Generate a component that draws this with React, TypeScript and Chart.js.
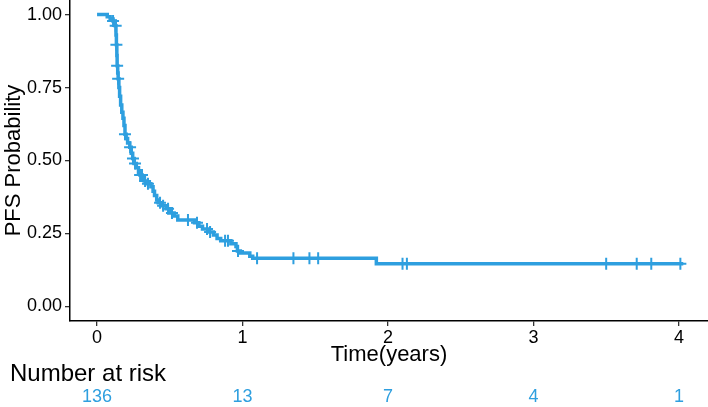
import React, { useEffect, useRef } from "react";
import { Chart, registerables } from "chart.js";

Chart.register(...registerables);

// Kaplan-Meier step points: time (years) and survival after the event
const stepTimes = [
  0, 0.07, 0.09, 0.11, 0.125, 0.13, 0.133, 0.136, 0.138, 0.142, 0.145, 0.15, 0.155,
  0.162, 0.17, 0.178, 0.185, 0.192, 0.2, 0.21, 0.225, 0.235, 0.245, 0.255, 0.27,
  0.285, 0.295, 0.31, 0.325, 0.345, 0.37, 0.385, 0.395, 0.41, 0.42, 0.445, 0.475,
  0.505, 0.53, 0.555, 0.67, 0.7, 0.725, 0.77, 0.8, 0.825, 0.85, 0.92, 0.955, 0.965,
  0.985, 1.05, 1.07, 1.92,
];
const stepSurv = [
  1.0, 0.993, 0.985, 0.978, 0.962, 0.93, 0.897, 0.86, 0.825, 0.8, 0.78, 0.75, 0.72,
  0.69, 0.665, 0.645, 0.62, 0.59, 0.575, 0.56, 0.545, 0.525, 0.507, 0.49, 0.475,
  0.46, 0.45, 0.44, 0.43, 0.42, 0.41, 0.395, 0.38, 0.365, 0.355, 0.345, 0.335,
  0.32, 0.31, 0.296, 0.287, 0.275, 0.265, 0.255, 0.245, 0.233, 0.225, 0.215, 0.205,
  0.19, 0.183, 0.172, 0.165, 0.146,
];
const endTime = 4.03;
const censorTimes = [
  0.11, 0.128, 0.133, 0.138, 0.145, 0.192, 0.227, 0.247, 0.261, 0.296, 0.309, 0.33,
  0.35, 0.433, 0.454, 0.488, 0.515, 0.625, 0.687, 0.756, 0.777, 0.88, 0.9, 0.969,
  1.1, 1.35, 1.46, 1.52, 2.1, 2.13, 3.5, 3.71, 3.81, 4.01,
];
const xTicks = [0, 1, 2, 3, 4];
const yTicks = [0, 0.25, 0.5, 0.75, 1.0];
const riskCounts = [136, 13, 7, 4, 1];

const LINE_COLOR = "#2E9FDF";
const FONT = "'Liberation Sans', Arial, Helvetica, sans-serif";

function survAt(t: number): number {
  let s = 1;
  for (let i = 0; i < stepTimes.length; i++) {
    if (stepTimes[i] <= t) s = stepSurv[i];
  }
  return s;
}

const textPlugin = {
  id: "kmText",
  afterDraw(chart: any) {
    const ctx = chart.ctx;
    const xs = chart.scales.x;
    const area = chart.chartArea;
    ctx.save();
    // x title
    ctx.fillStyle = "#000";
    ctx.font = `22px ${FONT}`;
    ctx.textAlign = "center";
    ctx.textBaseline = "middle";
    ctx.fillText("Time(years)", (area.left + area.right) / 2, 355);
    // y title
    ctx.save();
    ctx.translate(14, (area.top + area.bottom) / 2);
    ctx.rotate(-Math.PI / 2);
    ctx.fillText("PFS Probability", 0, 0);
    ctx.restore();
    // risk table
    ctx.textAlign = "left";
    ctx.textBaseline = "alphabetic";
    ctx.font = `24px ${FONT}`;
    ctx.fillText("Number at risk", 10, 381);
    ctx.font = `18px ${FONT}`;
    ctx.fillStyle = LINE_COLOR;
    ctx.textAlign = "center";
    ctx.textBaseline = "middle";
    riskCounts.forEach((n, i) => {
      ctx.fillText(String(n), xs.getPixelForValue(xTicks[i]), 397);
    });
    ctx.restore();
  },
};

export default function App() {
  const ref = useRef<HTMLCanvasElement | null>(null);

  useEffect(() => {
    if (!ref.current) return;
    const lineData = stepTimes.map((t, i) => ({ x: t, y: stepSurv[i] }));
    lineData.push({ x: endTime, y: stepSurv[stepSurv.length - 1] });
    const censorData = censorTimes.map((t) => ({ x: t, y: survAt(t) }));

    const chart = new Chart(ref.current, {
      type: "line",
      data: {
        datasets: [
          {
            data: lineData,
            borderColor: LINE_COLOR,
            borderWidth: 3.5,
            stepped: true,
            pointRadius: 0,
            fill: false,
            borderCapStyle: "butt",
            borderJoinStyle: "miter",
            clip: false,
          },
          {
            data: censorData,
            showLine: false,
            pointStyle: "cross",
            pointRadius: 6,
            pointBorderWidth: 2,
            pointBorderColor: LINE_COLOR,
            pointBackgroundColor: LINE_COLOR,
            borderColor: LINE_COLOR,
            clip: false,
          },
        ],
      },
      options: {
        animation: false,
        responsive: false,
        maintainAspectRatio: false,
        layout: { autoPadding: false, padding: { left: 0, right: 0, top: 0, bottom: 56 } },
        plugins: {
          legend: { display: false },
          tooltip: { enabled: false },
          title: { display: false },
        },
        scales: {
          x: {
            type: "linear",
            min: -0.186,
            max: 4.2,
            afterBuildTicks: (scale: any) => {
              scale.ticks = xTicks.map((v) => ({ value: v }));
            },
            afterFit: (scale: any) => {
              scale.height = 30;
              scale.paddingLeft = 0;
              scale.paddingRight = 0;
            },
            ticks: {
              color: "#000",
              font: { family: FONT, size: 18 },
              padding: 1,
              maxRotation: 0,
              callback: (v: any) => String(v),
            },
            grid: {
              drawOnChartArea: false,
              drawTicks: true,
              tickLength: 5,
              color: "#333",
              lineWidth: 1.3,
            },
            border: { display: true, color: "#000", width: 1.5 },
          },
          y: {
            type: "linear",
            min: -0.05,
            max: 1.05,
            afterBuildTicks: (scale: any) => {
              scale.ticks = yTicks.map((v) => ({ value: v }));
            },
            afterFit: (scale: any) => {
              scale.width = 70;
              scale.paddingTop = 0;
              scale.paddingBottom = 0;
            },
            ticks: {
              color: "#000",
              font: { family: FONT, size: 18 },
              padding: 3,
              callback: (v: any) => Number(v).toFixed(2),
            },
            grid: {
              drawOnChartArea: false,
              drawTicks: true,
              tickLength: 5,
              color: "#333",
              lineWidth: 1.3,
            },
            border: { display: true, color: "#000", width: 1.5 },
          },
        },
      },
      plugins: [textPlugin],
    } as any);

    return () => chart.destroy();
  }, []);

  return (
    <div style={{ position: "absolute", left: 0, top: 0, width: 708, height: 407, background: "#fff" }}>
      <canvas ref={ref} width={708} height={407} style={{ display: "block" }} />
    </div>
  );
}
